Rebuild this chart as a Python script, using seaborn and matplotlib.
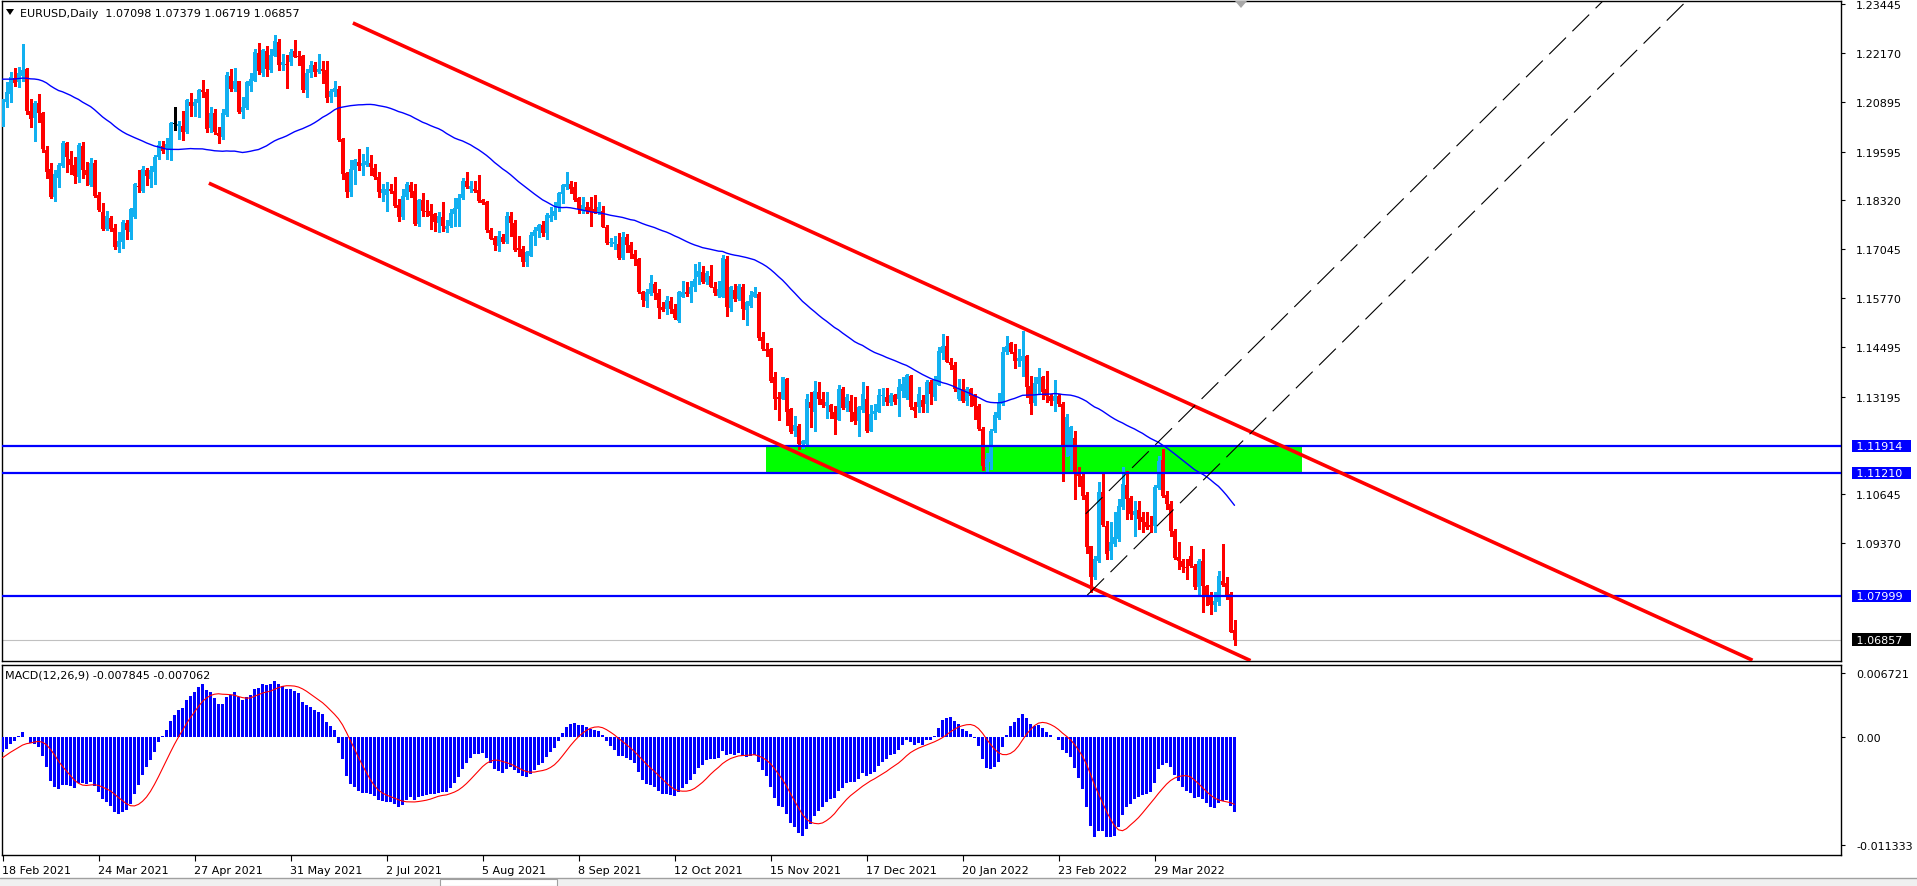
import numpy as np
import pandas as pd
import matplotlib
matplotlib.use("Agg")
import matplotlib.pyplot as plt
import seaborn as sns
from matplotlib.patches import Rectangle, Polygon
from matplotlib.lines import Line2D

# ---------------- data (EURUSD daily) ----------------
start_date = "2021-02-18"

opens = [
1.2031,1.2088,1.2110,1.2151,1.2140,1.2157,1.2175,1.2066,1.2046,1.2086,
1.2060,1.1963,1.1914,1.1842,1.1890,1.1923,1.1982,1.1940,1.1925,1.1894,
1.1975,1.1910,1.1872,1.1929,1.1846,1.1801,1.1757,1.1786,1.1759,1.1710,
1.1724,1.1773,1.1749,1.1789,1.1870,1.1857,1.1911,1.1888,1.1905,1.1944,
1.1975,1.1966,1.1964,1.2031,1.2027,1.2027,1.2010,1.2088,1.2077,1.2086,
1.2120,1.2116,1.2020,1.2059,1.2008,1.1998,1.2055,1.2156,1.2123,1.2143,
1.2063,1.2072,1.2131,1.2144,1.2217,1.2164,1.2221,1.2172,1.2210,1.2245,
1.2184,1.2188,1.2194,1.2221,1.2210,1.2210,1.2121,1.2164,1.2185,1.2166,
1.2175,1.2172,1.2101,1.2116,1.2123,1.1992,1.1903,1.1853,1.1910,1.1933,
1.1923,1.1924,1.1930,1.1916,1.1892,1.1851,1.1846,1.1862,1.1857,1.1821,
1.1788,1.1840,1.1873,1.1857,1.1770,1.1833,1.1805,1.1803,1.1797,1.1773,
1.1788,1.1757,1.1764,1.1796,1.1809,1.1837,1.1882,1.1863,1.1863,1.1859,
1.1833,1.1829,1.1756,1.1734,1.1712,1.1736,1.1724,1.1792,1.1773,1.1708,
1.1705,1.1672,1.1688,1.1740,1.1751,1.1768,1.1747,1.1786,1.1790,1.1814,
1.1848,1.1868,1.1875,1.1868,1.1837,1.1805,1.1816,1.1814,1.1809,1.1801,
1.1803,1.1763,1.1721,1.1718,1.1718,1.1682,1.1736,1.1716,1.1692,1.1679,
1.1594,1.1570,1.1588,1.1614,1.1590,1.1553,1.1548,1.1570,1.1548,1.1518,
1.1581,1.1594,1.1588,1.1607,1.1631,1.1644,1.1618,1.1635,1.1607,1.1583,
1.1581,1.1679,1.1550,1.1599,1.1575,1.1605,1.1547,1.1557,1.1581,1.1588,
1.1475,1.1444,1.1444,1.1370,1.1318,1.1315,1.1366,1.1287,1.1231,1.1242,
1.1196,1.1196,1.1305,1.1280,1.1333,1.1315,1.1296,1.1298,1.1281,1.1260,
1.1340,1.1289,1.1308,1.1281,1.1255,1.1284,1.1314,1.1231,1.1275,1.1281,
1.1321,1.1320,1.1303,1.1324,1.1315,1.1334,1.1316,1.1374,1.1294,1.1292,
1.1310,1.1301,1.1357,1.1318,1.1350,1.1434,1.1453,1.1411,1.1402,1.1314,
1.1340,1.1309,1.1340,1.1324,1.1296,1.1235,1.1135,1.1150,1.1229,1.1264,
1.1301,1.1437,1.1459,1.1437,1.1412,1.1414,1.1425,1.1347,1.1303,1.1353,
1.1370,1.1340,1.1321,1.1309,1.1322,1.1301,1.1192,1.1166,1.1211,1.1122,
1.1114,1.1063,1.0929,1.0848,1.0892,1.1072,1.0983,1.0918,1.0935,1.0948,
1.1031,1.1088,1.1055,1.1011,1.1025,1.1005,1.0992,1.0985,1.0983,1.1081,
1.1155,1.1063,1.1040,1.0970,1.0902,1.0892,1.0876,1.0903,1.0879,1.0822,
1.0890,1.0827,1.0802,1.0776,1.0783,1.0840,1.0834,1.0805,1.07098]

highs = [
1.2097,1.2140,1.2166,1.2178,1.2179,1.2240,1.2177,1.2097,1.2092,1.2110,
1.2062,1.1975,1.1930,1.1910,1.1930,1.1988,1.1985,1.1962,1.1944,1.1982,
1.1985,1.1933,1.1942,1.1937,1.1853,1.1825,1.1803,1.1792,1.1770,1.1749,
1.1780,1.1780,1.1812,1.1877,1.1911,1.1923,1.1916,1.1923,1.1951,1.1988,
1.1988,1.1994,1.2036,1.2075,1.2040,1.2064,1.2097,1.2112,1.2097,1.2123,
1.2146,1.2123,1.2075,1.2070,1.2023,1.2070,1.2166,1.2175,1.2177,1.2144,
1.2101,1.2144,1.2164,1.2227,1.2243,1.2227,1.2236,1.2227,1.2264,1.2253,
1.2214,1.2212,1.2227,1.2251,1.2221,1.2211,1.2175,1.2195,1.2194,1.2214,
1.2197,1.2197,1.2123,1.2144,1.2131,1.1994,1.1907,1.1938,1.1940,1.1966,
1.1953,1.1972,1.1951,1.1927,1.1905,1.1875,1.1879,1.1875,1.1892,1.1836,
1.1862,1.1879,1.1879,1.1875,1.1836,1.1850,1.1833,1.1823,1.1799,1.1801,
1.1829,1.1782,1.1809,1.1838,1.1849,1.1890,1.1905,1.1882,1.1883,1.1897,
1.1836,1.1831,1.1759,1.1740,1.1753,1.1744,1.1801,1.1801,1.1782,1.1740,
1.1714,1.1701,1.1749,1.1762,1.1770,1.1777,1.1799,1.1814,1.1827,1.1853,
1.1875,1.1905,1.1883,1.1881,1.1840,1.1840,1.1827,1.1840,1.1846,1.1829,
1.1818,1.1768,1.1734,1.1738,1.1747,1.1749,1.1744,1.1724,1.1703,1.1681,
1.1596,1.1601,1.1637,1.1620,1.1601,1.1566,1.1583,1.1579,1.1562,1.1596,
1.1622,1.1618,1.1622,1.1666,1.1670,1.1662,1.1649,1.1664,1.1618,1.1622,
1.1690,1.1688,1.1609,1.1614,1.1614,1.1614,1.1570,1.1596,1.1605,1.1594,
1.1488,1.1460,1.1448,1.1385,1.1331,1.1372,1.1368,1.1289,1.1270,1.1248,
1.1207,1.1327,1.1331,1.1361,1.1357,1.1333,1.1331,1.1301,1.1295,1.1350,
1.1344,1.1327,1.1323,1.1318,1.1296,1.1357,1.1347,1.1298,1.1300,1.1340,
1.1342,1.1342,1.1329,1.1327,1.1366,1.1370,1.1379,1.1376,1.1305,1.1346,
1.1323,1.1363,1.1363,1.1375,1.1449,1.1483,1.1479,1.1420,1.1409,1.1366,
1.1366,1.1344,1.1342,1.1327,1.1301,1.1240,1.1173,1.1235,1.1280,1.1329,
1.1450,1.1479,1.1462,1.1457,1.1444,1.1492,1.1429,1.1375,1.1370,1.1395,
1.1375,1.1388,1.1327,1.1363,1.1327,1.1305,1.1275,1.1244,1.1231,1.1135,
1.1121,1.1070,1.0931,1.0905,1.1096,1.1118,1.0996,1.0992,1.1018,1.1053,
1.1135,1.1127,1.1061,1.1048,1.1048,1.1018,1.1018,1.1009,1.1088,1.1166,
1.1183,1.1074,1.1048,1.0974,1.0940,1.0896,1.0896,1.0931,1.0883,1.0896,
1.0922,1.0828,1.0809,1.0809,1.0866,1.0935,1.0848,1.0809,1.07379]

lows = [
1.2027,1.2075,1.2088,1.2131,1.2127,1.2144,1.2057,1.2023,1.1988,1.2036,
1.1957,1.1890,1.1838,1.1831,1.1866,1.1918,1.1905,1.1901,1.1877,1.1881,
1.1890,1.1872,1.1870,1.1840,1.1803,1.1754,1.1755,1.1753,1.1705,1.1698,
1.1707,1.1731,1.1731,1.1786,1.1853,1.1855,1.1872,1.1866,1.1875,1.1940,
1.1956,1.1940,1.1937,1.2016,1.1992,1.1990,1.2008,1.2053,1.2053,1.2050,
1.2103,1.2010,1.2010,1.2005,1.1981,1.1992,1.2053,1.2118,1.2118,1.2059,
1.2046,1.2070,1.2118,1.2143,1.2162,1.2156,1.2156,1.2166,1.2208,1.2173,
1.2171,1.2125,1.2184,1.2205,1.2184,1.2114,1.2101,1.2155,1.2157,1.2164,
1.2138,1.2088,1.2090,1.2105,1.1988,1.1888,1.1842,1.1843,1.1875,1.1910,
1.1897,1.1923,1.1897,1.1888,1.1842,1.1831,1.1803,1.1851,1.1814,1.1777,
1.1783,1.1836,1.1840,1.1768,1.1766,1.1790,1.1790,1.1757,1.1751,1.1749,
1.1753,1.1749,1.1762,1.1766,1.1766,1.1836,1.1864,1.1853,1.1853,1.1829,
1.1822,1.1750,1.1730,1.1703,1.1701,1.1722,1.1722,1.1740,1.1701,1.1688,
1.1662,1.1660,1.1686,1.1716,1.1736,1.1740,1.1730,1.1779,1.1783,1.1805,
1.1825,1.1862,1.1851,1.1831,1.1799,1.1799,1.1799,1.1766,1.1799,1.1796,
1.1762,1.1718,1.1712,1.1705,1.1679,1.1679,1.1696,1.1681,1.1664,1.1590,
1.1557,1.1555,1.1585,1.1575,1.1525,1.1544,1.1535,1.1538,1.1522,1.1515,
1.1579,1.1583,1.1568,1.1596,1.1614,1.1616,1.1614,1.1605,1.1585,1.1581,
1.1579,1.1531,1.1544,1.1570,1.1572,1.1522,1.1507,1.1553,1.1579,1.1468,
1.1442,1.1427,1.1357,1.1287,1.1259,1.1313,1.1246,1.1225,1.1218,1.1183,
1.1186,1.1194,1.1240,1.1231,1.1300,1.1294,1.1263,1.1263,1.1222,1.1260,
1.1288,1.1283,1.1257,1.1249,1.1218,1.1281,1.1227,1.1229,1.1262,1.1279,
1.1298,1.1298,1.1298,1.1301,1.1270,1.1318,1.1314,1.1288,1.1268,1.1279,
1.1279,1.1279,1.1301,1.1312,1.1349,1.1418,1.1409,1.1392,1.1335,1.1312,
1.1305,1.1298,1.1296,1.1262,1.1234,1.1129,1.1125,1.1131,1.1227,1.1262,
1.1298,1.1431,1.1433,1.1394,1.1401,1.1375,1.1318,1.1275,1.1298,1.1327,
1.1314,1.1305,1.1298,1.1283,1.1296,1.1101,1.1166,1.1130,1.1053,1.1087,
1.1053,1.0913,1.0809,1.0844,1.0888,1.0983,1.0896,1.0896,1.0931,1.0944,
1.1027,1.1000,1.1000,1.0957,1.0974,1.0966,1.0974,1.0966,1.0966,1.1079,
1.1057,1.1027,1.0957,1.0896,1.0870,1.0861,1.0844,1.0874,1.0818,1.0805,
1.0757,1.0775,1.0753,1.0761,1.0775,1.0826,1.0792,1.0705,1.06719]

closes = [
1.2090,1.2116,1.2153,1.2138,1.2164,1.2172,1.2066,1.2044,1.2086,1.2059,
1.1966,1.1907,1.1842,1.1901,1.1925,1.1983,1.1946,1.1925,1.1896,1.1976,
1.1910,1.1899,1.1929,1.1844,1.1807,1.1757,1.1792,1.1757,1.1710,1.1725,
1.1775,1.1755,1.1809,1.1875,1.1868,1.1914,1.1896,1.1910,1.1946,1.1976,
1.1962,1.1979,1.2034,1.2031,1.2031,1.2011,1.2095,1.2079,1.2088,1.2120,
1.2116,1.2018,1.2059,1.2010,1.2001,1.2059,1.2159,1.2123,1.2144,1.2062,
1.2076,1.2142,1.2149,1.2220,1.2169,1.2224,1.2175,1.2212,1.2247,1.2185,
1.2192,1.2184,1.2220,1.2207,1.2205,1.2120,1.2164,1.2186,1.2168,1.2175,
1.2169,1.2099,1.2118,1.2124,1.1990,1.1901,1.1853,1.1914,1.1938,1.1923,
1.1929,1.1936,1.1918,1.1892,1.1853,1.1862,1.1862,1.1857,1.1818,1.1788,
1.1844,1.1875,1.1855,1.1770,1.1833,1.1805,1.1801,1.1792,1.1776,1.1790,
1.1766,1.1764,1.1799,1.1812,1.1837,1.1883,1.1868,1.1869,1.1857,1.1831,
1.1825,1.1756,1.1731,1.1716,1.1738,1.1724,1.1792,1.1773,1.1703,1.1703,
1.1672,1.1696,1.1742,1.1755,1.1768,1.1747,1.1794,1.1794,1.1805,1.1850,
1.1872,1.1876,1.1862,1.1834,1.1809,1.1820,1.1803,1.1805,1.1801,1.1814,
1.1763,1.1721,1.1724,1.1724,1.1682,1.1736,1.1716,1.1694,1.1679,1.1594,
1.1572,1.1592,1.1616,1.1590,1.1550,1.1547,1.1572,1.1548,1.1525,1.1594,
1.1594,1.1588,1.1607,1.1628,1.1649,1.1618,1.1642,1.1607,1.1590,1.1601,
1.1681,1.1555,1.1605,1.1575,1.1609,1.1548,1.1566,1.1585,1.1592,1.1472,
1.1444,1.1440,1.1361,1.1313,1.1313,1.1370,1.1279,1.1227,1.1246,1.1196,
1.1205,1.1315,1.1289,1.1335,1.1315,1.1298,1.1307,1.1281,1.1262,1.1340,
1.1289,1.1318,1.1281,1.1255,1.1292,1.1327,1.1231,1.1275,1.1283,1.1324,
1.1324,1.1307,1.1324,1.1305,1.1344,1.1353,1.1376,1.1294,1.1283,1.1327,
1.1292,1.1359,1.1327,1.1366,1.1440,1.1453,1.1411,1.1402,1.1340,1.1342,
1.1309,1.1340,1.1322,1.1296,1.1235,1.1140,1.1157,1.1231,1.1272,1.1305,
1.1437,1.1453,1.1437,1.1414,1.1421,1.1427,1.1344,1.1301,1.1355,1.1370,
1.1331,1.1321,1.1309,1.1322,1.1301,1.1192,1.1268,1.1241,1.1122,1.1114,
1.1061,1.0927,1.0848,1.0896,1.1072,1.0985,1.0909,1.0940,1.0953,1.1034,
1.1092,1.1053,1.1014,1.1022,1.1000,1.0992,1.0980,1.0980,1.1083,1.1153,
1.1060,1.1040,1.0970,1.0898,1.0892,1.0874,1.0872,1.0879,1.0822,1.0892,
1.0827,1.0802,1.0776,1.0787,1.0853,1.0828,1.0796,1.0706,1.06857]

# daily closes preceding the visible window (needed by the MA and MACD)
closes_before = [
1.2115,1.2145,1.2120,
1.2105,1.2105,1.2080,1.2135,1.2110,1.2145,1.2150,1.2195,1.2265,1.2255,
1.2240,1.2165,1.2190,1.2185,1.2215,1.2250,1.2295,1.2215,1.2250,1.2295,
1.2325,1.2270,1.2220,1.2150,1.2205,1.2160,1.2155,1.2080,1.2075,1.2130,
1.2105,1.2165,1.2170,1.2140,1.2160,1.2110,1.2125,1.2135,1.2060,1.2040,
1.2035,1.1965,1.2045,1.2050,1.2120,1.2120,1.2130,1.2120,1.2130,1.2105,
1.2040]
ma_period = 55

price_ticks = [1.23445, 1.22170, 1.20895, 1.19595, 1.18320, 1.17045,
               1.15770, 1.14495, 1.13195, 1.10645, 1.09370]
macd_ticks = [0.006721, 0.0, -0.011333]
macd_tick_labels = ["0.006721", "0.00", "-0.011333"]
level_lines = [1.11914, 1.11210, 1.07999]
bid_price = 1.06857
zone_low, zone_high = 1.11210, 1.1188
zone_start, zone_end = 190.75, 324.75
trend_upper = ([87.6, 437.5], [1.2295, 1.0632])
trend_lower = ([51.6, 312.0], [1.1877, 1.0631])
dash_upper = ([270.8, 402.0], [1.1014, 1.2372])
dash_lower = ([271.2, 423.0], [1.0802, 1.2373])
header = "EURUSD,Daily  1.07098 1.07379 1.06719 1.06857"
macd_header = "MACD(12,26,9) -0.007845 -0.007062"

# ---------------- figure ----------------
sns.set_theme(style="white")
plt.rcParams['font.family'] = ['DejaVu Sans']
plt.rcParams['lines.scale_dashes'] = False

W, H = 1917, 887
fig = plt.figure(figsize=(W / 100, H / 100), dpi=100)
fig.patch.set_facecolor('white')

def fx(px):
    return px / W

def fy(py):
    return 1 - py / H

ax = fig.add_axes([fx(2), fy(662), fx(1841) - fx(2), fy(2) - fy(662)])
ax2 = fig.add_axes([fx(2), fy(856), fx(1841) - fx(2), fy(666) - fy(856)])
for a in (ax, ax2):
    a.set_facecolor('white')
    for s in a.spines.values():
        s.set_color('black')
        s.set_linewidth(1.0)
        s.set_visible(True)

XLIM = (-0.125, 459.625)

n = len(closes)
idx = np.arange(n)
o = np.array(opens); hh = np.array(highs); ll = np.array(lows); c = np.array(closes)
bull, bear = '#12B0F0', '#FF0000'
cols = np.where(c > o, bull, np.where(c < o, bear, '#000000'))

# zone
ax.add_patch(Rectangle((zone_start, zone_low), zone_end - zone_start, zone_high - zone_low,
                       facecolor='#00FF00', edgecolor='none', zorder=1))
ax.axhline(bid_price, color='#C0C0C0', lw=0.8, zorder=1.5)

# candles
ax.vlines(idx, ll, hh, colors=cols, linewidth=0.75, antialiased=False, zorder=3)
body_bot = np.minimum(o, c)
body_h = np.maximum(np.abs(c - o), 0.00026)
ax.bar(idx, body_h, bottom=body_bot, width=0.75, color=cols, linewidth=0,
       antialiased=False, zorder=3)

# moving average
full = pd.Series(closes_before + closes)
ma = full.rolling(ma_period).mean().to_numpy()[-n:]
sns.lineplot(x=idx, y=ma, color='#0000FF', linewidth=1.0, ax=ax, zorder=4)

# horizontal levels
for lvl in level_lines:
    ax.axhline(lvl, color='#0000FF', lw=1.6, zorder=5)

# trend lines
for xs, ys in (trend_upper, trend_lower):
    ax.plot(xs, ys, color='#FF0000', lw=2.6, solid_capstyle='butt', zorder=6)
for xs, ys in (dash_upper, dash_lower):
    ax.plot(xs, ys, color='black', lw=0.8, dashes=(17, 6.5), zorder=6)

ax.set_xlim(*XLIM)
ax.set_ylim(1.06300, 1.23523)
ax.set_xticks([])
ax.yaxis.tick_right()
ax.set_yticks(price_ticks)
ax.set_yticklabels([f"{t:.5f}" for t in price_ticks])
ax.tick_params(axis='y', direction='out', length=3, width=0.8, pad=8,
               labelsize=8, colors='black', right=True, left=False)
ax.set_xlabel(''); ax.set_ylabel('')

# boxed price labels
xt = (1853.3 - 2) / 1839
for lvl, fc in [(1.11914, '#0000FF'), (1.11210, '#0000FF'), (1.07999, '#0000FF'), (bid_price, '#000000')]:
    ax.text(xt, lvl, f" {lvl:.5f}  ", transform=ax.get_yaxis_transform(), ha='left', va='center',
            fontsize=8, color='white', clip_on=False, zorder=10,
            bbox=dict(boxstyle='square,pad=0.12', fc=fc, ec='none'))

# MACD
ema12 = full.ewm(span=12, adjust=False).mean()
ema26 = full.ewm(span=26, adjust=False).mean()
macd_full = ema12 - ema26
signal_full = macd_full.rolling(9).mean()
macd = macd_full.to_numpy()[-n:]
signal = signal_full.to_numpy()[-n:]
ax2.bar(idx, macd, width=0.75, color='#0000FF', linewidth=0, antialiased=False, zorder=3)
sns.lineplot(x=idx, y=signal, color='#FF0000', linewidth=0.8, ax=ax2, zorder=4)
ax2.set_xlim(*XLIM)
ax2.set_ylim(-0.012386, 0.007557)
ax2.yaxis.tick_right()
ax2.set_yticks(macd_ticks)
ax2.set_yticklabels(macd_tick_labels)
ax2.tick_params(axis='y', direction='out', length=3, width=0.8, pad=8,
                labelsize=8, colors='black', right=True, left=False)
dates = pd.bdate_range(start_date, periods=n)
date_ticks = list(range(0, n, 24))
ax2.set_xticks(date_ticks)
ax2.set_xticklabels([f"{dates[i].day} {dates[i]:%b %Y}" for i in date_ticks])
ax2.tick_params(axis='x', direction='out', length=4, width=0.8, pad=3,
                labelsize=8, colors='black', bottom=True)
for lab in ax2.get_xticklabels():
    lab.set_ha('left')
ax2.set_xlabel(''); ax2.set_ylabel('')

# headers
fig.text(fx(20), fy(14), header, fontsize=8, ha='left', va='center', color='black')
fig.patches.append(Polygon([(fx(6), fy(10)), (fx(14), fy(10)), (fx(10), fy(16))],
                           closed=True, transform=fig.transFigure, fc='black', ec='none'))
fig.patches.append(Polygon([(fx(1235), fy(2)), (fx(1247), fy(2)), (fx(1241), fy(9))],
                           closed=True, transform=fig.transFigure, fc='#A8A8A8', ec='none'))
fig.text(fx(5), fy(675), macd_header, fontsize=8, ha='left', va='center', color='black')

# bottom tab bar
fig.patches.append(Rectangle((0, 0), 1, fy(879), transform=fig.transFigure,
                             fc='#F0F0F0', ec='none'))
fig.patches.append(Rectangle((fx(440), 0), fx(557) - fx(440), fy(880), transform=fig.transFigure,
                             fc='white', ec='#A0A0A0', lw=0.8))
fig.lines.append(Line2D([0, 1], [fy(879), fy(879)], transform=fig.transFigure,
                        color='#A0A0A0', lw=1))

fig.savefig('out.png', dpi=100)
